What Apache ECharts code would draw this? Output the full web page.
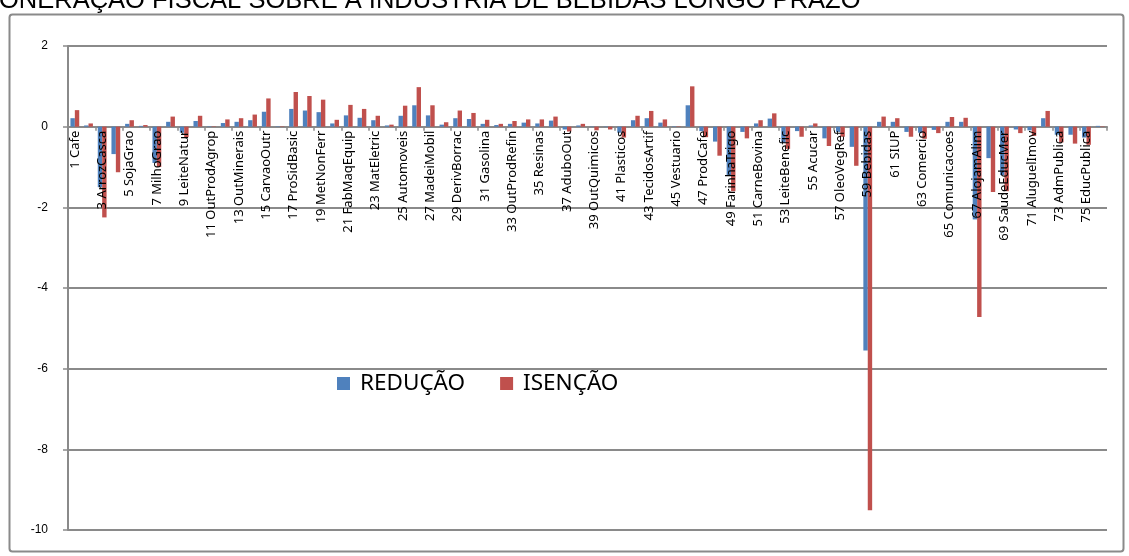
<!DOCTYPE html>
<html>
<head>
<meta charset="utf-8">
<script src="https://cdn.jsdelivr.net/npm/echarts@6/dist/echarts.min.js"></script>
<style>
  html, body { margin: 0; padding: 0; background: #fff; }
  #chart { width: 1129px; height: 556px; }
</style>
</head>
<body>
<div id="chart"></div>
<script>
// Sector names (76 products)
const categories = [
  '1 Cafe', '2 CanaAcucar', '3 ArrozCasca', '4 TrigoGrao', '5 SojaGrao', '6 AlgodaoHerb',
  '7 MilhoGrao', '8 BovinosSuin', '9 LeiteNatur', '10 AvesVivas', '11 OutProdAgrop', '12 MinerioFerro',
  '13 OutMinerais', '14 PetroleoGas', '15 CarvaoOutr', '16 MinNaoMetal', '17 ProSidBasic', '18 LaminAco',
  '19 MetNonFerr', '20 OutMetalurg', '21 FabMaqEquip', '22 TratMaqTerr', '23 MatEletric', '24 EquipEletron',
  '25 Automoveis', '26 OutVeicPecas', '27 MadeiMobil', '28 PapelGraf', '29 DerivBorrac', '30 ElemQuimicos',
  '31 Gasolina', '32 OleoCombust', '33 OutProdRefin', '34 PetroqBasic', '35 Resinas', '36 FibrasSint',
  '37 AduboOut', '38 Tintas', '39 OutQuimicos', '40 FarmacPerf', '41 Plasticos', '42 TecidosNatur',
  '43 TecidosArtif', '44 OutTexteis', '45 Vestuario', '46 CouroCalcad', '47 ProdCafe', '48 ArrozBenef',
  '49 FarinhaTrigo', '50 OutVegBenef', '51 CarneBovina', '52 CarneAves', '53 LeiteBenefic', '54 OutLaticin',
  '55 Acucar', '56 OleoVegBrut', '57 OleoVegRef', '58 OutAlimentos', '59 Bebidas', '60 OutIndustrias',
  '61 SIUP', '62 Construcao', '63 Comercio', '64 Transporte', '65 Comunicacoes', '66 InstFinanc',
  '67 AlojamAlim', '68 ServEmpresas', '69 SaudeEducMer', '70 ServPrivados', '71 AluguelImov', '72 AluguelImput',
  '73 AdmPublica', '74 SaudePublica', '75 EducPublica', '76 ServNaoMerc'
];

// REDUÇÃO scenario
const reducao = [
  0.21, 0.03, -1.50, -0.68, 0.07, 0.02,
  -0.90, 0.12, -0.15, 0.14, 0.01, 0.09,
  0.12, 0.16, 0.37, 0.01, 0.44, 0.40,
  0.36, 0.08, 0.28, 0.22, 0.16, 0.03,
  0.27, 0.53, 0.28, 0.05, 0.21, 0.19,
  0.07, 0.04, 0.07, 0.10, 0.08, 0.15,
  -0.07, 0.03, -0.01, -0.01, -0.15, 0.16,
  0.21, 0.10, 0.01, 0.53, -0.11, -0.37,
  -1.20, -0.13, 0.08, 0.20, -0.40, -0.11,
  0.03, -0.29, -0.13, -0.50, -5.55, 0.12,
  0.12, -0.13, -0.15, -0.08, 0.12, 0.12,
  -2.30, -0.78, -1.20, -0.07, -0.09, 0.21,
  -0.20, -0.20, -0.27, 0.02
];

// ISENÇÃO scenario
const isencao = [
  0.41, 0.08, -2.25, -1.13, 0.16, 0.04,
  -1.00, 0.25, -0.26, 0.27, 0.01, 0.18,
  0.21, 0.30, 0.70, 0.01, 0.86, 0.76,
  0.67, 0.17, 0.54, 0.44, 0.27, 0.05,
  0.52, 0.98, 0.53, 0.11, 0.40, 0.34,
  0.17, 0.07, 0.14, 0.18, 0.18, 0.25,
  -0.12, 0.07, -0.09, -0.07, -0.27, 0.27,
  0.39, 0.18, 0.01, 1.00, -0.26, -0.72,
  -1.60, -0.29, 0.16, 0.33, -0.55, -0.25,
  0.08, -0.48, -0.25, -0.97, -9.51, 0.25,
  0.21, -0.25, -0.30, -0.16, 0.24, 0.22,
  -4.72, -1.62, -1.60, -0.16, -0.23, 0.39,
  -0.39, -0.42, -0.45, 0.01
];

const yTicks = { min: -10, max: 2, step: 2 };
const seriesNames = ['REDUÇÃO', 'ISENÇÃO'];
const titleText = 'ONERAÇÃO FISCAL SOBRE A INDUSTRIA DE BEBIDAS LONGO PRAZO';

const gray = '#8a8a8a';
const gridLeft = 68, gridRight = 22, gridTop = 46, gridBottom = 26, chartH = 556;
// height of the band between the top of the plot and the zero line;
// the sector names hang from the bottom edge of that band
const plotH = chartH - gridTop - gridBottom;
const zeroBand = plotH * (yTicks.max - 0) / (yTicks.max - yTicks.min);

const chart = echarts.init(document.getElementById('chart'), null, { renderer: 'canvas' });

chart.setOption({
  animation: false,
  backgroundColor: '#ffffff',
  color: ['#4F81BD', '#C0504D'],
  title: {
    text: titleText,
    left: -1,
    top: -12,
    padding: 0,
    textStyle: { fontFamily: 'Liberation Sans', fontSize: 25.5, fontWeight: 'normal', color: '#000' }
  },
  legend: {
    data: seriesNames,
    left: 332,
    top: 367,
    icon: 'rect',
    itemWidth: 13,
    itemHeight: 13,
    itemGap: 35,
    textStyle: { fontFamily: 'Noto Sans', fontSize: 22.5, color: '#000', padding: [0, 0, 0, 5] }
  },
  grid: [
    { left: gridLeft, right: gridRight, top: gridTop, bottom: gridBottom, containLabel: false, outerBoundsMode: 'none' },
    { left: gridLeft, right: gridRight, top: gridTop, height: zeroBand, containLabel: false, outerBoundsMode: 'none' }
  ],
  xAxis: [
    {
      type: 'category',
      gridIndex: 0,
      data: categories,
      axisLine: { onZero: true, lineStyle: { color: gray, width: 2 } },
      axisTick: { show: true, interval: 1, length: 4, lineStyle: { color: gray, width: 1.5 } },
      axisLabel: { show: false },
      splitLine: { show: false }
    },
    {
      type: 'category',
      gridIndex: 1,
      data: categories,
      position: 'bottom',
      z: 5,
      axisLine: { show: false },
      axisTick: { show: false },
      axisLabel: {
        interval: 1,
        rotate: 90,
        align: 'right',
        verticalAlign: 'middle',
        margin: 4,
        fontFamily: 'Noto Sans',
        fontSize: 13,
        color: '#000'
      },
      splitLine: { show: false }
    }
  ],
  yAxis: [
    {
      type: 'value',
      gridIndex: 0,
      min: yTicks.min,
      max: yTicks.max,
      interval: yTicks.step,
      axisLine: { show: true, lineStyle: { color: gray, width: 2 } },
      axisTick: { show: true, length: 5, lineStyle: { color: gray, width: 1.5 } },
      axisLabel: { margin: 20, fontFamily: 'Liberation Sans', fontSize: 12, color: '#000' },
      splitLine: { show: true, lineStyle: { color: gray, width: 2 } }
    },
    {
      type: 'value',
      gridIndex: 1,
      show: false,
      min: 0,
      max: 1
    }
  ],
  graphic: [{
    type: 'rect',
    left: 7,
    top: 12,
    shape: { width: 1114, height: 537, r: 3 },
    style: { fill: 'none', stroke: gray, lineWidth: 2 },
    silent: true,
    z: -1
  }],
  series: [
    { name: seriesNames[0], type: 'bar', xAxisIndex: 0, yAxisIndex: 0, data: reducao, barWidth: 4.4, barGap: '0%' },
    { name: seriesNames[1], type: 'bar', xAxisIndex: 0, yAxisIndex: 0, data: isencao, barWidth: 4.4, barGap: '0%' }
  ]
});
</script>
</body>
</html>
